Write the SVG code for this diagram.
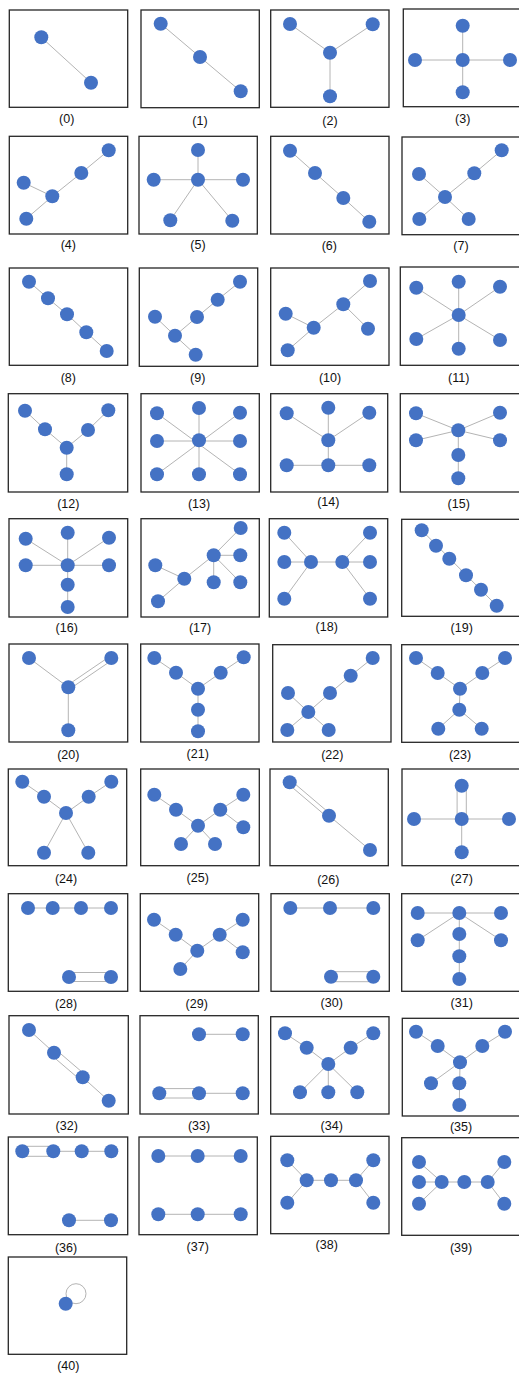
<svg xmlns="http://www.w3.org/2000/svg" width="519" height="1374" viewBox="0 0 519 1374">
<style>
.box{fill:#fff;stroke:#262626;stroke-width:1.3}
.lbl{font-family:"Liberation Sans",Arial,sans-serif;font-size:12.5px;text-anchor:middle;fill:#111}
#connectors line,#connectors circle{stroke:#b4b4b4;stroke-width:1;fill:none}
#nodes circle{fill:#4472c4}
</style>
<rect width="519" height="1374" fill="#fff"/>
<g id="panels">
<g id="panel-0"><rect class="box" x="9.3" y="10" width="118.4" height="97.3"/><text class="lbl" x="66.7" y="123">(0)</text></g>
<g id="panel-1"><rect class="box" x="141" y="10" width="118.3" height="97.7"/><text class="lbl" x="200" y="124.5">(1)</text></g>
<g id="panel-2"><rect class="box" x="270.7" y="10" width="118.3" height="97.3"/><text class="lbl" x="330" y="124.5">(2)</text></g>
<g id="panel-3"><rect class="box" x="403.3" y="9" width="118" height="97.7"/><text class="lbl" x="462.7" y="123">(3)</text></g>
<g id="panel-4"><rect class="box" x="9.3" y="136.3" width="118.4" height="97.7"/><text class="lbl" x="68.3" y="249">(4)</text></g>
<g id="panel-5"><rect class="box" x="139" y="136.3" width="118.3" height="97.7"/><text class="lbl" x="198" y="248.5">(5)</text></g>
<g id="panel-6"><rect class="box" x="270.7" y="136.3" width="118.3" height="97.7"/><text class="lbl" x="329.3" y="250">(6)</text></g>
<g id="panel-7"><rect class="box" x="402" y="137" width="119" height="97.7"/><text class="lbl" x="461" y="250">(7)</text></g>
<g id="panel-8"><rect class="box" x="9.3" y="268" width="118.4" height="97.3"/><text class="lbl" x="68.3" y="381.5">(8)</text></g>
<g id="panel-9"><rect class="box" x="139.3" y="268" width="118.4" height="98.3"/><text class="lbl" x="197.7" y="381.5">(9)</text></g>
<g id="panel-10"><rect class="box" x="270.7" y="268" width="118.3" height="97.3"/><text class="lbl" x="330" y="381.5">(10)</text></g>
<g id="panel-11"><rect class="box" x="400.3" y="267" width="121" height="98.3"/><text class="lbl" x="458.7" y="381.5">(11)</text></g>
<g id="panel-12"><rect class="box" x="8.3" y="393.7" width="119.4" height="98.3"/><text class="lbl" x="68.3" y="508">(12)</text></g>
<g id="panel-13"><rect class="box" x="141" y="393.7" width="118.3" height="98.3"/><text class="lbl" x="199" y="508">(13)</text></g>
<g id="panel-14"><rect class="box" x="270.7" y="393.7" width="117" height="98.3"/><text class="lbl" x="328.3" y="505.5">(14)</text></g>
<g id="panel-15"><rect class="box" x="400.3" y="393.7" width="121" height="98.3"/><text class="lbl" x="458.7" y="508">(15)</text></g>
<g id="panel-16"><rect class="box" x="9" y="518.7" width="118.7" height="98.3"/><text class="lbl" x="66.7" y="632">(16)</text></g>
<g id="panel-17"><rect class="box" x="141" y="518.7" width="118.3" height="98.3"/><text class="lbl" x="200" y="632">(17)</text></g>
<g id="panel-18"><rect class="box" x="269.3" y="518.7" width="118.4" height="98.3"/><text class="lbl" x="326.7" y="631">(18)</text></g>
<g id="panel-19"><rect class="box" x="401.7" y="519.3" width="119.6" height="97"/><text class="lbl" x="461.7" y="632">(19)</text></g>
<g id="panel-20"><rect class="box" x="9" y="644" width="118.7" height="98"/><text class="lbl" x="68.3" y="759">(20)</text></g>
<g id="panel-21"><rect class="box" x="140.7" y="644" width="118.3" height="98"/><text class="lbl" x="197.7" y="757.5">(21)</text></g>
<g id="panel-22"><rect class="box" x="272.7" y="644.7" width="118.3" height="97.3"/><text class="lbl" x="332.3" y="759">(22)</text></g>
<g id="panel-23"><rect class="box" x="401.7" y="644.7" width="119.6" height="97.6"/><text class="lbl" x="460" y="759">(23)</text></g>
<g id="panel-24"><rect class="box" x="8.3" y="769" width="118.4" height="96.7"/><text class="lbl" x="66" y="882.5">(24)</text></g>
<g id="panel-25"><rect class="box" x="140.7" y="769" width="118.6" height="96.7"/><text class="lbl" x="197.7" y="881.5">(25)</text></g>
<g id="panel-26"><rect class="box" x="270" y="769" width="118.3" height="96.7"/><text class="lbl" x="328.3" y="883.5">(26)</text></g>
<g id="panel-27"><rect class="box" x="402" y="769" width="119.3" height="96.7"/><text class="lbl" x="461.7" y="882.5">(27)</text></g>
<g id="panel-28"><rect class="box" x="8.3" y="893.7" width="119.4" height="97.6"/><text class="lbl" x="66" y="1008">(28)</text></g>
<g id="panel-29"><rect class="box" x="140.3" y="893.7" width="118.4" height="97.6"/><text class="lbl" x="196.7" y="1007.5">(29)</text></g>
<g id="panel-30"><rect class="box" x="271" y="893.7" width="118.3" height="97.6"/><text class="lbl" x="331.7" y="1006.5">(30)</text></g>
<g id="panel-31"><rect class="box" x="401.7" y="893.7" width="119.6" height="97.6"/><text class="lbl" x="461.7" y="1006.5">(31)</text></g>
<g id="panel-32"><rect class="box" x="9" y="1015.7" width="119.3" height="98.3"/><text class="lbl" x="66.7" y="1130">(32)</text></g>
<g id="panel-33"><rect class="box" x="140" y="1015.7" width="118.3" height="98.3"/><text class="lbl" x="199" y="1129.5">(33)</text></g>
<g id="panel-34"><rect class="box" x="270.7" y="1016.7" width="118.3" height="97.3"/><text class="lbl" x="331.7" y="1129.5">(34)</text></g>
<g id="panel-35"><rect class="box" x="402.3" y="1018.3" width="119" height="97.7"/><text class="lbl" x="461" y="1130.5">(35)</text></g>
<g id="panel-36"><rect class="box" x="8.3" y="1137" width="119.4" height="97.7"/><text class="lbl" x="66" y="1251.5">(36)</text></g>
<g id="panel-37"><rect class="box" x="139" y="1137" width="118.3" height="97.7"/><text class="lbl" x="197.7" y="1250.5">(37)</text></g>
<g id="panel-38"><rect class="box" x="270.7" y="1136.3" width="118.3" height="97.4"/><text class="lbl" x="326.7" y="1248.5">(38)</text></g>
<g id="panel-39"><rect class="box" x="401.7" y="1137.7" width="119.6" height="97.6"/><text class="lbl" x="461" y="1251.5">(39)</text></g>
<g id="panel-40"><rect class="box" x="8.3" y="1257" width="118.4" height="97.3"/><text class="lbl" x="68.3" y="1369.5">(40)</text></g>
</g>
<g id="connectors">
<line x1="41.3" y1="37.3" x2="91" y2="82.7"/>
<line x1="160.7" y1="23.7" x2="200" y2="57"/><line x1="200" y1="57" x2="240.7" y2="91.3"/>
<line x1="290" y1="24" x2="330" y2="52.7"/><line x1="372.7" y1="24.3" x2="330" y2="52.7"/><line x1="330" y1="52.7" x2="330" y2="96.3"/>
<line x1="462.7" y1="25.7" x2="462.7" y2="92.3"/><line x1="415" y1="60" x2="510" y2="60"/>
<line x1="108.7" y1="150.3" x2="81.3" y2="173"/><line x1="81.3" y1="173" x2="52.3" y2="196.3"/><line x1="23.7" y1="182.7" x2="52.3" y2="196.3"/><line x1="52.3" y1="196.3" x2="26.3" y2="218.7"/>
<line x1="198" y1="179.7" x2="198" y2="150"/><line x1="153.7" y1="179.7" x2="243" y2="179.7"/><line x1="198" y1="179.7" x2="170.3" y2="220.3"/><line x1="198" y1="179.7" x2="232.3" y2="220.7"/>
<line x1="290" y1="150.7" x2="315" y2="173"/><line x1="315" y1="173" x2="343.3" y2="198"/><line x1="343.3" y1="198" x2="369.3" y2="221.7"/>
<line x1="501.7" y1="150.3" x2="474.3" y2="173.3"/><line x1="474.3" y1="173.3" x2="445" y2="197"/><line x1="419" y1="174" x2="445" y2="197"/><line x1="445" y1="197" x2="419.3" y2="219"/><line x1="445" y1="197" x2="468.7" y2="219"/>
<line x1="29" y1="281.7" x2="48" y2="298.3"/><line x1="48" y1="298.3" x2="67" y2="314.3"/><line x1="67" y1="314.3" x2="86.3" y2="332.3"/><line x1="86.3" y1="332.3" x2="106.7" y2="351"/>
<line x1="240" y1="281.7" x2="217.7" y2="299.7"/><line x1="217.7" y1="299.7" x2="197" y2="317"/><line x1="197" y1="317" x2="175" y2="335.7"/><line x1="155" y1="316.7" x2="175" y2="335.7"/><line x1="175" y1="335.7" x2="195.7" y2="354.7"/>
<line x1="370" y1="281" x2="343.3" y2="304.3"/><line x1="343.3" y1="304.3" x2="368" y2="328.7"/><line x1="343.3" y1="304.3" x2="313.7" y2="327.7"/><line x1="285.7" y1="313.7" x2="313.7" y2="327.7"/><line x1="313.7" y1="327.7" x2="287.7" y2="350.3"/>
<line x1="458.7" y1="281.7" x2="458.7" y2="348.7"/><line x1="458.7" y1="315" x2="416.3" y2="287.7"/><line x1="458.7" y1="315" x2="500" y2="286.7"/><line x1="458.7" y1="315" x2="416.3" y2="339"/><line x1="458.7" y1="315" x2="500" y2="340"/>
<line x1="25" y1="410.7" x2="45" y2="429.3"/><line x1="45" y1="429.3" x2="66.7" y2="447.7"/><line x1="108.3" y1="410.3" x2="88" y2="430"/><line x1="88" y1="430" x2="66.7" y2="447.7"/><line x1="66.7" y1="447.7" x2="66.7" y2="474.3"/>
<line x1="199" y1="408" x2="199" y2="474.3"/><line x1="157" y1="441" x2="240" y2="441"/><line x1="157" y1="413.3" x2="240" y2="474.3"/><line x1="240" y1="412.7" x2="157" y2="474.3"/>
<line x1="328.3" y1="407.7" x2="328.3" y2="465.3"/><line x1="286.7" y1="413.3" x2="328.3" y2="440.3"/><line x1="369.3" y1="412.7" x2="328.3" y2="440.3"/><line x1="286.7" y1="465.3" x2="369.3" y2="465.3"/>
<line x1="458.3" y1="430.3" x2="416" y2="413.3"/><line x1="458.3" y1="430.3" x2="500" y2="412.7"/><line x1="458.3" y1="430.3" x2="416" y2="440.3"/><line x1="458.3" y1="430.3" x2="500" y2="440.3"/><line x1="458.3" y1="430.3" x2="458.3" y2="478.3"/>
<line x1="67.7" y1="532.7" x2="67.7" y2="607"/><line x1="25.7" y1="565.3" x2="109" y2="565.3"/><line x1="67.7" y1="565.3" x2="25.7" y2="538.7"/><line x1="67.7" y1="565.3" x2="109" y2="537.7"/>
<line x1="240.7" y1="528" x2="213.7" y2="555.3"/><line x1="213.7" y1="555.3" x2="240.3" y2="555.3"/><line x1="213.7" y1="555.3" x2="213.7" y2="582.3"/><line x1="213.7" y1="555.3" x2="240.3" y2="582.3"/><line x1="213.7" y1="555.3" x2="184.3" y2="578.7"/><line x1="155.3" y1="565.3" x2="184.3" y2="578.7"/><line x1="184.3" y1="578.7" x2="158" y2="601.3"/>
<line x1="284.3" y1="532.7" x2="311" y2="562"/><line x1="284.3" y1="562" x2="370" y2="562"/><line x1="284.3" y1="598.7" x2="311" y2="562"/><line x1="342.3" y1="562" x2="370" y2="532.7"/><line x1="342.3" y1="562" x2="370" y2="598.7"/>
<line x1="421.7" y1="530.3" x2="496.7" y2="605.7"/>
<line x1="29" y1="658" x2="68.3" y2="687.3"/><line x1="69.5" y1="689.1" x2="112.5" y2="659.8"/><line x1="67.1" y1="685.5" x2="110.1" y2="656.2"/><line x1="68.3" y1="687.3" x2="68.3" y2="730.3"/>
<line x1="154.3" y1="658" x2="176" y2="672.7"/><line x1="176" y1="672.7" x2="198" y2="688.7"/><line x1="198" y1="688.7" x2="220.7" y2="672.7"/><line x1="220.7" y1="672.7" x2="243.7" y2="657.3"/><line x1="198" y1="688.7" x2="198" y2="731.3"/>
<line x1="372.7" y1="658" x2="350.7" y2="675.7"/><line x1="350.7" y1="675.7" x2="330" y2="693"/><line x1="330" y1="693" x2="308.3" y2="712"/><line x1="288" y1="693" x2="308.3" y2="712"/><line x1="308.3" y1="712" x2="287.3" y2="730"/><line x1="308.3" y1="712" x2="328.7" y2="730"/>
<line x1="416" y1="658" x2="437.7" y2="673"/><line x1="437.7" y1="673" x2="460" y2="688.7"/><line x1="460" y1="688.7" x2="482.3" y2="673"/><line x1="482.3" y1="673" x2="505" y2="658"/><line x1="460" y1="688.7" x2="459.3" y2="709.7"/><line x1="459.3" y1="709.7" x2="438.3" y2="728.7"/><line x1="459.3" y1="709.7" x2="481.7" y2="728.7"/>
<line x1="22.3" y1="781.7" x2="44" y2="796.7"/><line x1="44" y1="796.7" x2="66" y2="813"/><line x1="66" y1="813" x2="88.7" y2="796.7"/><line x1="88.7" y1="796.7" x2="111.3" y2="781.7"/><line x1="66" y1="813" x2="44" y2="852.7"/><line x1="66" y1="813" x2="88.3" y2="852.7"/>
<line x1="154.3" y1="794.7" x2="176" y2="809.7"/><line x1="176" y1="809.7" x2="198" y2="825.7"/><line x1="198" y1="825.7" x2="220.3" y2="809.7"/><line x1="220.3" y1="809.7" x2="243.3" y2="794.7"/><line x1="220.3" y1="809.7" x2="243.3" y2="827.3"/><line x1="198" y1="825.7" x2="181" y2="844"/><line x1="198" y1="825.7" x2="215" y2="844"/>
<line x1="288.3" y1="784" x2="327.6" y2="817.4"/><line x1="291.1" y1="780.6" x2="330.4" y2="814"/><line x1="329" y1="815.7" x2="370" y2="850"/>
<line x1="457.1" y1="785.7" x2="457.1" y2="819"/><line x1="466.3" y1="785.7" x2="466.3" y2="819"/><line x1="414" y1="819" x2="509" y2="819"/><line x1="461.7" y1="819" x2="461.7" y2="852.3"/>
<line x1="28" y1="908" x2="111" y2="908"/><line x1="69" y1="972.5" x2="111" y2="972.5"/><line x1="69" y1="981.5" x2="111" y2="981.5"/>
<line x1="154" y1="919.7" x2="175.7" y2="934.7"/><line x1="175.7" y1="934.7" x2="197.3" y2="950.7"/><line x1="197.3" y1="950.7" x2="219.7" y2="934.7"/><line x1="219.7" y1="934.7" x2="242.7" y2="919.7"/><line x1="219.7" y1="934.7" x2="242.7" y2="952.3"/><line x1="197.3" y1="950.7" x2="180.3" y2="969"/>
<line x1="290.3" y1="908" x2="373.3" y2="908"/><line x1="331" y1="971.7" x2="373.3" y2="971.7"/><line x1="331" y1="981.7" x2="373.3" y2="981.7"/>
<line x1="417.7" y1="913" x2="501" y2="913"/><line x1="459.3" y1="913" x2="417.7" y2="940.3"/><line x1="459.3" y1="913" x2="501" y2="940.3"/><line x1="459.3" y1="913" x2="459.3" y2="979"/>
<line x1="29" y1="1030" x2="54" y2="1052.7"/><line x1="51.7" y1="1055.4" x2="80.4" y2="1080"/><line x1="56.3" y1="1050" x2="85" y2="1074.6"/><line x1="82.7" y1="1077.3" x2="108.7" y2="1100.7"/>
<line x1="199" y1="1034.3" x2="242.7" y2="1034.3"/><line x1="159.3" y1="1088.6" x2="199" y2="1088.6"/><line x1="159.3" y1="1098" x2="199" y2="1098"/><line x1="199" y1="1093.3" x2="242.7" y2="1093.3"/>
<line x1="285" y1="1033.3" x2="306.7" y2="1047.7"/><line x1="306.7" y1="1047.7" x2="328.3" y2="1064"/><line x1="328.3" y1="1064" x2="350.7" y2="1047.7"/><line x1="350.7" y1="1047.7" x2="373.3" y2="1033.3"/><line x1="328.3" y1="1064" x2="300" y2="1092.3"/><line x1="328.3" y1="1064" x2="328.3" y2="1092.3"/><line x1="328.3" y1="1064" x2="357.3" y2="1092.3"/>
<line x1="416" y1="1031.7" x2="437.7" y2="1046"/><line x1="437.7" y1="1046" x2="460" y2="1062.3"/><line x1="460" y1="1062.3" x2="482.3" y2="1046"/><line x1="482.3" y1="1046" x2="505" y2="1031.7"/><line x1="460" y1="1062.3" x2="431" y2="1083.3"/><line x1="460" y1="1062.3" x2="459.3" y2="1105"/>
<line x1="22.3" y1="1146.3" x2="53.3" y2="1146.3"/><line x1="22.3" y1="1156.3" x2="53.3" y2="1156.3"/><line x1="53.3" y1="1151.3" x2="111.3" y2="1151.3"/><line x1="69" y1="1220.3" x2="111" y2="1220.3"/>
<line x1="158.3" y1="1156" x2="240.7" y2="1156"/><line x1="158.3" y1="1214.3" x2="240.7" y2="1214.3"/>
<line x1="287.3" y1="1160.3" x2="306.7" y2="1180.3"/><line x1="287.3" y1="1202.7" x2="306.7" y2="1180.3"/><line x1="306.7" y1="1180.3" x2="356" y2="1180.3"/><line x1="356" y1="1180.3" x2="373.3" y2="1160.3"/><line x1="356" y1="1180.3" x2="373.3" y2="1202.7"/>
<line x1="419" y1="1162" x2="441.7" y2="1182"/><line x1="419" y1="1182" x2="487.7" y2="1182"/><line x1="419" y1="1203.7" x2="441.7" y2="1182"/><line x1="487.7" y1="1182" x2="504.3" y2="1162"/><line x1="487.7" y1="1182" x2="504.3" y2="1203.7"/>
<circle cx="76" cy="1293.7" r="10"/>
</g>
<g id="nodes">
<g id="g0"><circle cx="41.3" cy="37.3" r="7"/><circle cx="91" cy="82.7" r="7"/></g>
<g id="g1"><circle cx="160.7" cy="23.7" r="7"/><circle cx="200" cy="57" r="7"/><circle cx="240.7" cy="91.3" r="7"/></g>
<g id="g2"><circle cx="290" cy="24" r="7"/><circle cx="372.7" cy="24.3" r="7"/><circle cx="330" cy="52.7" r="7"/><circle cx="330" cy="96.3" r="7"/></g>
<g id="g3"><circle cx="462.7" cy="25.7" r="7"/><circle cx="415" cy="60" r="7"/><circle cx="462.7" cy="60" r="7"/><circle cx="510" cy="60" r="7"/><circle cx="462.7" cy="92.3" r="7"/></g>
<g id="g4"><circle cx="108.7" cy="150.3" r="7"/><circle cx="81.3" cy="173" r="7"/><circle cx="23.7" cy="182.7" r="7"/><circle cx="52.3" cy="196.3" r="7"/><circle cx="26.3" cy="218.7" r="7"/></g>
<g id="g5"><circle cx="198" cy="179.7" r="7"/><circle cx="198" cy="150" r="7"/><circle cx="153.7" cy="179.7" r="7"/><circle cx="243" cy="179.7" r="7"/><circle cx="170.3" cy="220.3" r="7"/><circle cx="232.3" cy="220.7" r="7"/></g>
<g id="g6"><circle cx="290" cy="150.7" r="7"/><circle cx="315" cy="173" r="7"/><circle cx="343.3" cy="198" r="7"/><circle cx="369.3" cy="221.7" r="7"/></g>
<g id="g7"><circle cx="501.7" cy="150.3" r="7"/><circle cx="474.3" cy="173.3" r="7"/><circle cx="419" cy="174" r="7"/><circle cx="445" cy="197" r="7"/><circle cx="419.3" cy="219" r="7"/><circle cx="468.7" cy="219" r="7"/></g>
<g id="g8"><circle cx="29" cy="281.7" r="7"/><circle cx="48" cy="298.3" r="7"/><circle cx="67" cy="314.3" r="7"/><circle cx="86.3" cy="332.3" r="7"/><circle cx="106.7" cy="351" r="7"/></g>
<g id="g9"><circle cx="240" cy="281.7" r="7"/><circle cx="217.7" cy="299.7" r="7"/><circle cx="197" cy="317" r="7"/><circle cx="155" cy="316.7" r="7"/><circle cx="175" cy="335.7" r="7"/><circle cx="195.7" cy="354.7" r="7"/></g>
<g id="g10"><circle cx="370" cy="281" r="7"/><circle cx="343.3" cy="304.3" r="7"/><circle cx="368" cy="328.7" r="7"/><circle cx="285.7" cy="313.7" r="7"/><circle cx="313.7" cy="327.7" r="7"/><circle cx="287.7" cy="350.3" r="7"/></g>
<g id="g11"><circle cx="458.7" cy="315" r="7"/><circle cx="458.7" cy="281.7" r="7"/><circle cx="416.3" cy="287.7" r="7"/><circle cx="500" cy="286.7" r="7"/><circle cx="416.3" cy="339" r="7"/><circle cx="500" cy="340" r="7"/><circle cx="458.7" cy="348.7" r="7"/></g>
<g id="g12"><circle cx="25" cy="410.7" r="7"/><circle cx="45" cy="429.3" r="7"/><circle cx="66.7" cy="447.7" r="7"/><circle cx="108.3" cy="410.3" r="7"/><circle cx="88" cy="430" r="7"/><circle cx="66.7" cy="474.3" r="7"/></g>
<g id="g13"><circle cx="199" cy="440.3" r="7"/><circle cx="199" cy="408" r="7"/><circle cx="157" cy="413.3" r="7"/><circle cx="240" cy="412.7" r="7"/><circle cx="157" cy="441" r="7"/><circle cx="240" cy="441" r="7"/><circle cx="157" cy="474.3" r="7"/><circle cx="199" cy="474.3" r="7"/><circle cx="240" cy="474.3" r="7"/></g>
<g id="g14"><circle cx="328.3" cy="407.7" r="7"/><circle cx="286.7" cy="413.3" r="7"/><circle cx="369.3" cy="412.7" r="7"/><circle cx="328.3" cy="440.3" r="7"/><circle cx="328.3" cy="465.3" r="7"/><circle cx="286.7" cy="465.3" r="7"/><circle cx="369.3" cy="465.3" r="7"/></g>
<g id="g15"><circle cx="458.3" cy="430.3" r="7"/><circle cx="416" cy="413.3" r="7"/><circle cx="500" cy="412.7" r="7"/><circle cx="416" cy="440.3" r="7"/><circle cx="500" cy="440.3" r="7"/><circle cx="458.3" cy="455" r="7"/><circle cx="458.3" cy="478.3" r="7"/></g>
<g id="g16"><circle cx="67.7" cy="565.3" r="7"/><circle cx="67.7" cy="532.7" r="7"/><circle cx="25.7" cy="538.7" r="7"/><circle cx="109" cy="537.7" r="7"/><circle cx="25.7" cy="565.3" r="7"/><circle cx="109" cy="565.3" r="7"/><circle cx="67.7" cy="584.7" r="7"/><circle cx="67.7" cy="607" r="7"/></g>
<g id="g17"><circle cx="240.7" cy="528" r="7"/><circle cx="213.7" cy="555.3" r="7"/><circle cx="240.3" cy="555.3" r="7"/><circle cx="213.7" cy="582.3" r="7"/><circle cx="240.3" cy="582.3" r="7"/><circle cx="184.3" cy="578.7" r="7"/><circle cx="155.3" cy="565.3" r="7"/><circle cx="158" cy="601.3" r="7"/></g>
<g id="g18"><circle cx="284.3" cy="532.7" r="7"/><circle cx="284.3" cy="562" r="7"/><circle cx="284.3" cy="598.7" r="7"/><circle cx="311" cy="562" r="7"/><circle cx="342.3" cy="562" r="7"/><circle cx="370" cy="532.7" r="7"/><circle cx="370" cy="562" r="7"/><circle cx="370" cy="598.7" r="7"/></g>
<g id="g19"><circle cx="421.7" cy="530.3" r="7"/><circle cx="436" cy="545.7" r="7"/><circle cx="449.3" cy="558.7" r="7"/><circle cx="466" cy="575.3" r="7"/><circle cx="481" cy="589.7" r="7"/><circle cx="496.7" cy="605.7" r="7"/></g>
<g id="g20"><circle cx="29" cy="658" r="7"/><circle cx="111.3" cy="658" r="7"/><circle cx="68.3" cy="687.3" r="7"/><circle cx="68.3" cy="730.3" r="7"/></g>
<g id="g21"><circle cx="154.3" cy="658" r="7"/><circle cx="176" cy="672.7" r="7"/><circle cx="198" cy="688.7" r="7"/><circle cx="220.7" cy="672.7" r="7"/><circle cx="243.7" cy="657.3" r="7"/><circle cx="198" cy="709.7" r="7"/><circle cx="198" cy="731.3" r="7"/></g>
<g id="g22"><circle cx="372.7" cy="658" r="7"/><circle cx="350.7" cy="675.7" r="7"/><circle cx="330" cy="693" r="7"/><circle cx="308.3" cy="712" r="7"/><circle cx="288" cy="693" r="7"/><circle cx="287.3" cy="730" r="7"/><circle cx="328.7" cy="730" r="7"/></g>
<g id="g23"><circle cx="416" cy="658" r="7"/><circle cx="437.7" cy="673" r="7"/><circle cx="460" cy="688.7" r="7"/><circle cx="482.3" cy="673" r="7"/><circle cx="505" cy="658" r="7"/><circle cx="459.3" cy="709.7" r="7"/><circle cx="438.3" cy="728.7" r="7"/><circle cx="481.7" cy="728.7" r="7"/></g>
<g id="g24"><circle cx="22.3" cy="781.7" r="7"/><circle cx="44" cy="796.7" r="7"/><circle cx="66" cy="813" r="7"/><circle cx="88.7" cy="796.7" r="7"/><circle cx="111.3" cy="781.7" r="7"/><circle cx="44" cy="852.7" r="7"/><circle cx="88.3" cy="852.7" r="7"/></g>
<g id="g25"><circle cx="154.3" cy="794.7" r="7"/><circle cx="176" cy="809.7" r="7"/><circle cx="198" cy="825.7" r="7"/><circle cx="220.3" cy="809.7" r="7"/><circle cx="243.3" cy="794.7" r="7"/><circle cx="243.3" cy="827.3" r="7"/><circle cx="181" cy="844" r="7"/><circle cx="215" cy="844" r="7"/></g>
<g id="g26"><circle cx="289.7" cy="782.3" r="7"/><circle cx="329" cy="815.7" r="7"/><circle cx="370" cy="850" r="7"/></g>
<g id="g27"><circle cx="461.7" cy="785.7" r="7"/><circle cx="414" cy="819" r="7"/><circle cx="461.7" cy="819" r="7"/><circle cx="509" cy="819" r="7"/><circle cx="461.7" cy="852.3" r="7"/></g>
<g id="g28"><circle cx="28" cy="908" r="7"/><circle cx="52.7" cy="908" r="7"/><circle cx="81" cy="908" r="7"/><circle cx="111" cy="908" r="7"/><circle cx="69" cy="977" r="7"/><circle cx="111" cy="977" r="7"/></g>
<g id="g29"><circle cx="154" cy="919.7" r="7"/><circle cx="175.7" cy="934.7" r="7"/><circle cx="197.3" cy="950.7" r="7"/><circle cx="219.7" cy="934.7" r="7"/><circle cx="242.7" cy="919.7" r="7"/><circle cx="242.7" cy="952.3" r="7"/><circle cx="180.3" cy="969" r="7"/></g>
<g id="g30"><circle cx="290.3" cy="908" r="7"/><circle cx="330" cy="908" r="7"/><circle cx="373.3" cy="908" r="7"/><circle cx="331" cy="976.7" r="7"/><circle cx="373.3" cy="976.7" r="7"/></g>
<g id="g31"><circle cx="459.3" cy="913" r="7"/><circle cx="417.7" cy="913" r="7"/><circle cx="501" cy="913" r="7"/><circle cx="417.7" cy="940.3" r="7"/><circle cx="501" cy="940.3" r="7"/><circle cx="459.3" cy="934" r="7"/><circle cx="459.3" cy="956.3" r="7"/><circle cx="459.3" cy="979" r="7"/></g>
<g id="g32"><circle cx="29" cy="1030" r="7"/><circle cx="54" cy="1052.7" r="7"/><circle cx="82.7" cy="1077.3" r="7"/><circle cx="108.7" cy="1100.7" r="7"/></g>
<g id="g33"><circle cx="199" cy="1034.3" r="7"/><circle cx="242.7" cy="1034.3" r="7"/><circle cx="159.3" cy="1093.3" r="7"/><circle cx="199" cy="1093.3" r="7"/><circle cx="242.7" cy="1093.3" r="7"/></g>
<g id="g34"><circle cx="285" cy="1033.3" r="7"/><circle cx="306.7" cy="1047.7" r="7"/><circle cx="328.3" cy="1064" r="7"/><circle cx="350.7" cy="1047.7" r="7"/><circle cx="373.3" cy="1033.3" r="7"/><circle cx="300" cy="1092.3" r="7"/><circle cx="328.3" cy="1092.3" r="7"/><circle cx="357.3" cy="1092.3" r="7"/></g>
<g id="g35"><circle cx="416" cy="1031.7" r="7"/><circle cx="437.7" cy="1046" r="7"/><circle cx="460" cy="1062.3" r="7"/><circle cx="482.3" cy="1046" r="7"/><circle cx="505" cy="1031.7" r="7"/><circle cx="431" cy="1083.3" r="7"/><circle cx="459.3" cy="1083.3" r="7"/><circle cx="459.3" cy="1105" r="7"/></g>
<g id="g36"><circle cx="22.3" cy="1151.3" r="7"/><circle cx="53.3" cy="1151.3" r="7"/><circle cx="81.7" cy="1151.3" r="7"/><circle cx="111.3" cy="1151.3" r="7"/><circle cx="69" cy="1220.3" r="7"/><circle cx="111" cy="1220.3" r="7"/></g>
<g id="g37"><circle cx="158.3" cy="1156" r="7"/><circle cx="197.7" cy="1156" r="7"/><circle cx="240.7" cy="1156" r="7"/><circle cx="158.3" cy="1214.3" r="7"/><circle cx="197.7" cy="1214.3" r="7"/><circle cx="240.7" cy="1214.3" r="7"/></g>
<g id="g38"><circle cx="287.3" cy="1160.3" r="7"/><circle cx="287.3" cy="1202.7" r="7"/><circle cx="306.7" cy="1180.3" r="7"/><circle cx="331" cy="1180.3" r="7"/><circle cx="356" cy="1180.3" r="7"/><circle cx="373.3" cy="1160.3" r="7"/><circle cx="373.3" cy="1202.7" r="7"/></g>
<g id="g39"><circle cx="419" cy="1162" r="7"/><circle cx="419" cy="1182" r="7"/><circle cx="419" cy="1203.7" r="7"/><circle cx="441.7" cy="1182" r="7"/><circle cx="464.3" cy="1182" r="7"/><circle cx="487.7" cy="1182" r="7"/><circle cx="504.3" cy="1162" r="7"/><circle cx="504.3" cy="1203.7" r="7"/></g>
<g id="g40"><circle cx="65.7" cy="1303.7" r="7"/></g>
</g>
</svg>
